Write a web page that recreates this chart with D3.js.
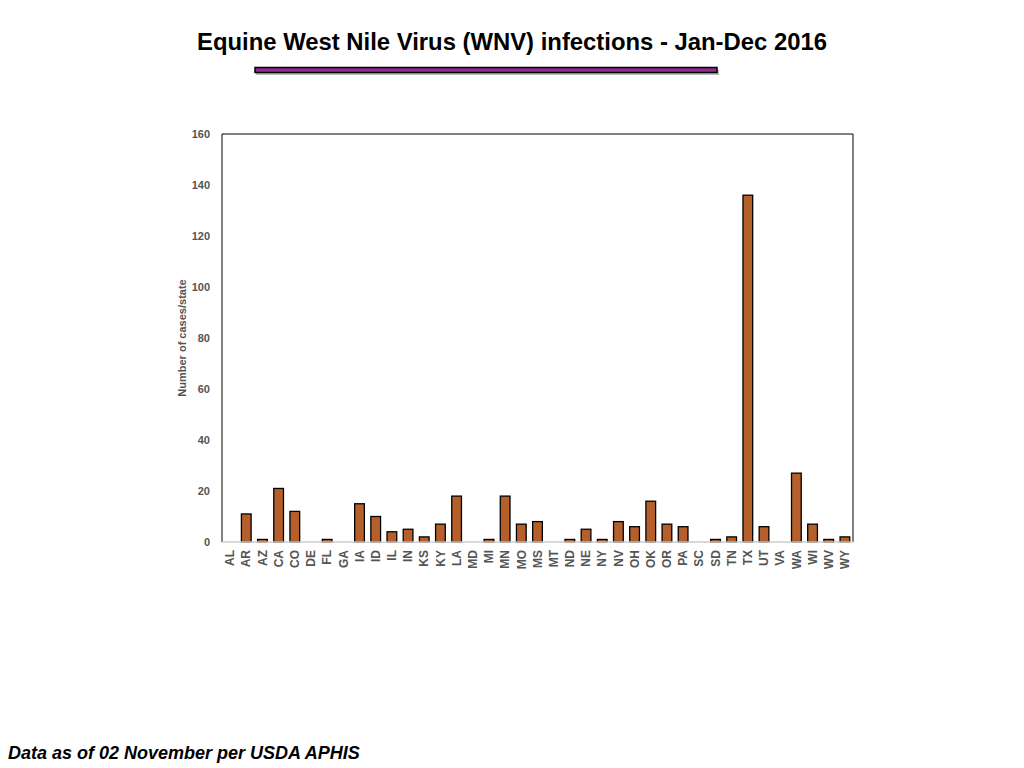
<!DOCTYPE html>
<html>
<head>
<meta charset="utf-8">
<script src="https://cdn.jsdelivr.net/npm/d3@7"></script>
<style>
  body { margin: 0; background: #fff; }
  svg { display: block; font-family: "Liberation Sans", Arial, sans-serif; }
</style>
</head>
<body>
<svg id="chart" width="1024" height="768"></svg>
<script>
// states and case counts, Jan-Dec 2016
const states = ["AL","AR","AZ","CA","CO","DE","FL","GA","IA","ID","IL","IN","KS","KY","LA","MD","MI","MN","MO","MS",
  "MT","ND","NE","NY","NV","OH","OK","OR","PA","SC","SD","TN","TX","UT","VA","WA","WI","WV","WY"];
const cases = [0,11,1,21,12,0,1,0,15,10,4,5,2,7,18,0,1,18,7,8,
  0,1,5,1,8,6,16,7,6,0,1,2,136,6,0,27,7,1,2];
const yTicks = [0,20,40,60,80,100,120,140,160];

const svg = d3.select("#chart");
const margin = { top: 134, right: 171, bottom: 226, left: 222 };
const width = 1024 - margin.left - margin.right;
const height = 768 - margin.top - margin.bottom;

// Title
svg.append("text")
  .attr("x", 512)
  .attr("y", 50)
  .attr("text-anchor", "middle")
  .attr("textLength", 630)
  .attr("lengthAdjust", "spacingAndGlyphs")
  .style("font-size", "24px")
  .style("font-weight", "bold")
  .attr("fill", "#000")
  .text("Equine West Nile Virus (WNV) infections - Jan-Dec 2016");

// decorative purple bar under title
svg.append("rect")
  .attr("x", 256).attr("y", 70).attr("width", 463).attr("height", 5)
  .attr("fill", "#bbb");
svg.append("rect")
  .attr("x", 255).attr("y", 67.5).attr("width", 462).attr("height", 5)
  .attr("fill", "#8e2c8e")
  .attr("stroke", "#000")
  .attr("stroke-width", 1.5);

const g = svg.append("g")
  .attr("transform", `translate(${margin.left},${margin.top})`);

const x = d3.scaleBand()
  .domain(states)
  .range([0, width])
  .paddingInner(0.4)
  .paddingOuter(0.2);

const y = d3.scaleLinear()
  .domain([0, 160])
  .range([height, 0]);

// frame: top, right, left black; bottom gray
g.append("line").attr("x1", 0).attr("x2", width).attr("y1", 0).attr("y2", 0)
  .attr("stroke", "#000").attr("stroke-width", 1);
g.append("line").attr("x1", width).attr("x2", width).attr("y1", 0).attr("y2", height)
  .attr("stroke", "#000").attr("stroke-width", 1);
g.append("line").attr("x1", 0).attr("x2", 0).attr("y1", 0).attr("y2", height)
  .attr("stroke", "#000").attr("stroke-width", 1);

// bars
g.selectAll(".bar")
  .data(states.map((s, i) => ({ state: s, value: cases[i] })).filter(d => d.value > 0))
  .enter()
  .append("rect")
  .attr("class", "bar")
  .attr("x", d => x(d.state))
  .attr("y", d => y(d.value))
  .attr("width", x.bandwidth())
  .attr("height", d => height - y(d.value))
  .attr("fill", "#b5602b")
  .attr("stroke", "#000")
  .attr("stroke-width", 1.3);

g.append("line").attr("x1", 0).attr("x2", width).attr("y1", height).attr("y2", height)
  .attr("stroke", "#ccc").attr("stroke-width", 1.5);

// y axis
const yAxis = g.append("g")
  .call(d3.axisLeft(y).tickValues(yTicks).tickSize(0).tickPadding(12));
yAxis.select(".domain").remove();
yAxis.selectAll("text")
  .style("font-size", "11px")
  .style("font-weight", "bold")
  .style("font-family", "\"Liberation Sans\", Arial, sans-serif")
  .attr("fill", "#555");

// x axis
const xAxis = g.append("g")
  .attr("transform", `translate(0,${height})`)
  .call(d3.axisBottom(x).tickSize(0));
xAxis.select(".domain").remove();
xAxis.selectAll("text")
  .attr("transform", "rotate(-90)")
  .attr("text-anchor", "end")
  .attr("x", -8)
  .attr("y", 0)
  .attr("dy", "0.35em")
  .style("font-size", "12px")
  .style("font-weight", "bold")
  .style("font-family", "\"Liberation Sans\", Arial, sans-serif")
  .attr("fill", "#555");

// y axis title
svg.append("text")
  .attr("transform", `translate(186,${margin.top + height / 2}) rotate(-90)`)
  .attr("text-anchor", "middle")
  .style("font-size", "11px")
  .style("font-weight", "bold")
  .attr("fill", "#555")
  .text("Number of cases/state");

// footer
svg.append("text")
  .attr("x", 8)
  .attr("y", 759)
  .style("font-size", "18px")
  .style("font-weight", "bold")
  .style("font-style", "italic")
  .attr("fill", "#000")
  .text("Data as of 02 November per USDA APHIS");
</script>
</body>
</html>
